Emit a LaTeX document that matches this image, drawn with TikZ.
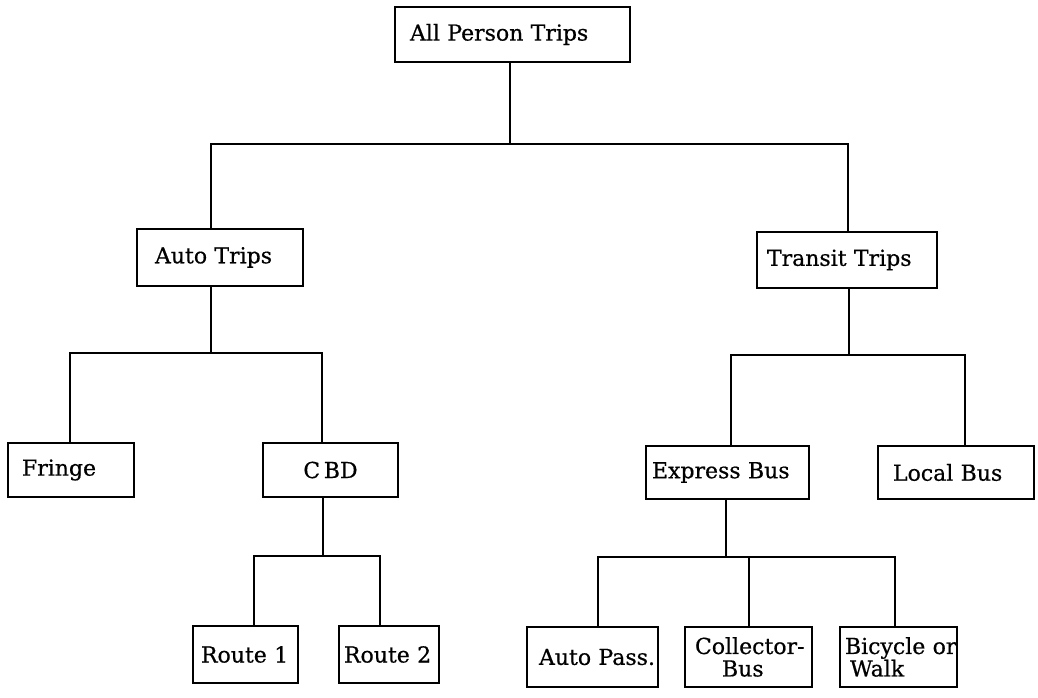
\documentclass[tikz,border=0pt]{standalone}
\usepackage{fontspec}
\setmainfont[FakeBold=0.6]{DejaVu Serif}
\begin{document}
\begin{tikzpicture}[x=1pt,y=-1pt,
  box/.style={draw, line width=2.4pt, inner xsep=0pt, inner ysep=0pt,
    align=left, font=\fontsize{22}{22.5}\selectfont},
  link/.style={line width=1.9pt, line cap=rect}]
\useasboundingbox (0,0) rectangle (1038,698);

% top level
\node[box, text width=235pt, minimum height=55pt] (all) at (512.5,34.5) {\hspace*{15pt}All Person Trips};

% second level
\node[box, text width=166pt, minimum height=57pt] (auto) at (220,257.5) {\hspace*{18pt}Auto Trips};
\node[box, text width=180pt, minimum height=56pt] (transit) at (847,260) {\hspace*{10pt}Transit Trips};

% auto branch
\node[box, text width=126pt, minimum height=54pt] (fringe) at (71,470) {\hspace*{14pt}Fringe};
\node[box, text width=135pt, minimum height=54pt, align=center] (cbd) at (330.5,470) {C\,BD};
\node[box, text width=105pt, minimum height=57pt] (route1) at (245.5,654.5) {\hspace*{8pt}Route 1};
\node[box, text width=100pt, minimum height=57pt] (route2) at (389,654.5) {\hspace*{5pt}Route 2};

% transit branch
\node[box, text width=163pt, minimum height=53pt] (express) at (727.5,472.5) {\hspace*{6pt}Express Bus};
\node[box, text width=156pt, minimum height=53pt] (local) at (956,472.5) {\hspace*{15pt}Local Bus};
\node[box, text width=131pt, minimum height=60pt] (autopass) at (592.5,657) {\hspace*{12pt}Auto Pass.};
\node[box, text width=127pt, minimum height=60pt] (collector) at (748.5,657) {\hspace*{10pt}Collector-\\\hspace*{37pt}Bus};
\node[box, text width=117pt, minimum height=60pt] (bicycle) at (898.5,657) {\hspace*{5pt}Bicycle or\\\hspace*{10pt}Walk};

% connectors
\draw[link] ([xshift=-2.5pt]all.south) -- ++(0,81) coordinate (j1);
\draw[link] (j1) -| ([xshift=-9pt]auto.north);
\draw[link] (j1) -| ([xshift=1pt]transit.north);

\draw[link] ([xshift=-9pt]auto.south) -- ++(0,66) coordinate (j2);
\draw[link] (j2) -| ([xshift=-1pt]fringe.north);
\draw[link] (j2) -| ([xshift=-8.5pt]cbd.north);

\draw[link] ([xshift=-7.5pt]cbd.south) -- ++(0,58) coordinate (j3);
\draw[link] (j3) -| ([xshift=8.5pt]route1.north);
\draw[link] (j3) -| ([xshift=-9pt]route2.north);

\draw[link] ([xshift=2pt]transit.south) -- ++(0,66) coordinate (j4);
\draw[link] (j4) -| ([xshift=3.5pt]express.north);
\draw[link] (j4) -| ([xshift=9pt]local.north);

\draw[link] ([xshift=-1.5pt]express.south) -- ++(0,57) coordinate (j5);
\draw[link] (j5) -| ([xshift=5.5pt]autopass.north);
\draw[link] (j5) -| ([xshift=0.5pt]collector.north);
\draw[link] (j5) -| ([xshift=-3.5pt]bicycle.north);
\end{tikzpicture}
\end{document}
